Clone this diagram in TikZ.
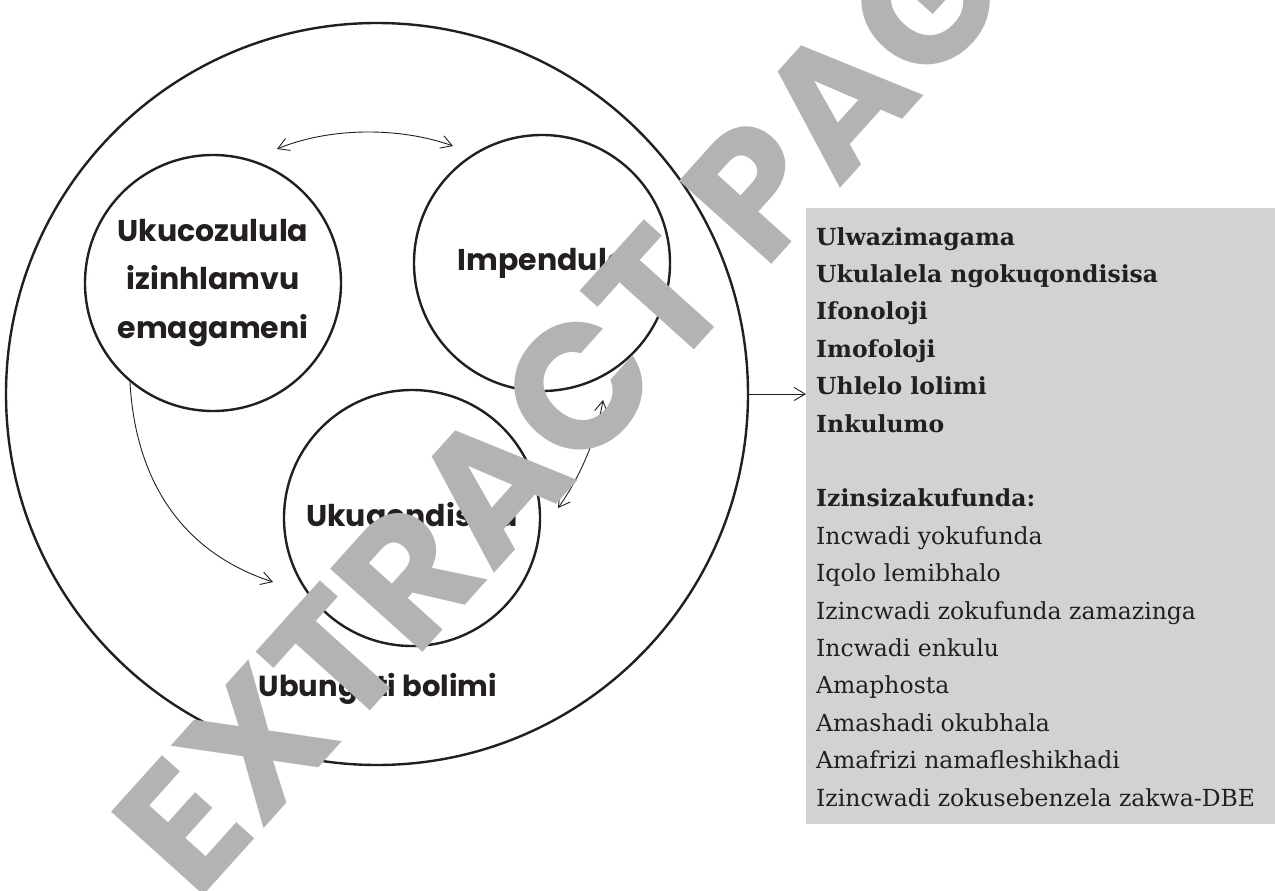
\documentclass[tikz,border=0pt]{standalone}
\usepackage{fontspec}
\setmainfont{DejaVu Serif}
\setsansfont{Poppins}
\usetikzlibrary{arrows.meta}
\definecolor{boxgray}{RGB}{209,210,212}
\definecolor{wmgray}{RGB}{179,179,179}
\definecolor{ink}{RGB}{35,31,32}
\begin{document}
\begin{tikzpicture}[x=1pt,y=-1pt,
  bigring/.style={circle, draw=ink, line width=2.4pt, minimum size=742pt, inner sep=0pt},
  ring/.style={circle, draw=ink, line width=2.4pt, minimum size=256pt, inner sep=0pt,
    font=\sffamily\bfseries\fontsize{30}{48.5}\selectfont, text=ink, align=center},
  bigtext/.style={font=\sffamily\bfseries\fontsize{29}{48.5}\selectfont, text=ink},
  conn/.style={draw=ink, line width=0.9pt, -{Straight Barb[length=11pt,width=13pt]}},
  conntwo/.style={draw=ink, line width=0.9pt, {Straight Barb[length=11pt,width=13pt]}-{Straight Barb[length=11pt,width=13pt]}},
  listbox/.style={fill=boxgray, minimum width=469pt, minimum height=616pt, inner sep=0pt, anchor=north west},
  listtext/.style={anchor=north west, align=left, inner sep=0pt, text=ink,
    font=\fontsize{23.5}{37.4}\selectfont},
  wmark/.style={font=\sffamily\bfseries\fontsize{177}{177}\selectfont, text=wmgray, inner sep=0pt}
]
\useasboundingbox (0,0) rectangle (1275,891);
\fill[white] (0,0) rectangle (1275,891);

\node[bigring] (outer) at (377,394) {};
\node[ring] (L) at (213,283) {Ukucozulula\\izinhlamvu\\emagameni};
\node[ring] (R) at (542,263) {Impendulo};
\node[ring] (B) at (412,518) {Ukuqondisisa};
\node[bigtext] (U) at (378,689) {Ubungoti bolimi};

\node[listbox] (box) at (806,208) {};
\node[listtext] (list) at (816,227) {%
\textbf{Ulwazimagama}\\
\textbf{Ukulalela ngokuqondisisa}\\
\textbf{Ifonoloji}\\
\textbf{Imofoloji}\\
\textbf{Uhlelo lolimi}\\
\textbf{Inkulumo}\\[37.4pt]
\textbf{Izinsizakufunda:}\\
Incwadi yokufunda\\
Iqolo lemibhalo\\
Izincwadi zokufunda zamazinga\\
Incwadi enkulu\\
Amaphosta\\
Amashadi okubhala\\
Amafrizi namafleshikhadi\\
Izincwadi zokusebenzela zakwa-DBE};

% connectors
\coordinate (topA) at (277,149);
\coordinate (topB) at (453,146);
\draw[conntwo] (topA) .. controls (330,127) and (400,127) .. (topB);

\coordinate (lend) at (273,582);
\draw[conn] (L.230) .. controls (136,490) and (190,555) .. (lend);

\coordinate (rtop) at (603,400);
\coordinate (rbot) at (558,508);
\draw[conntwo] (rtop) .. controls (598,430) and (585,470) .. (rbot);

\draw[conn] (outer.east) -- (outer.east -| box.west);

% watermark
\begin{scope}
\clip (0,0) rectangle (1275,891);
\node[wmark, rotate=48] (wm) at (592,371) {EXTRACT PAGE};
\end{scope}
\end{tikzpicture}
\end{document}
